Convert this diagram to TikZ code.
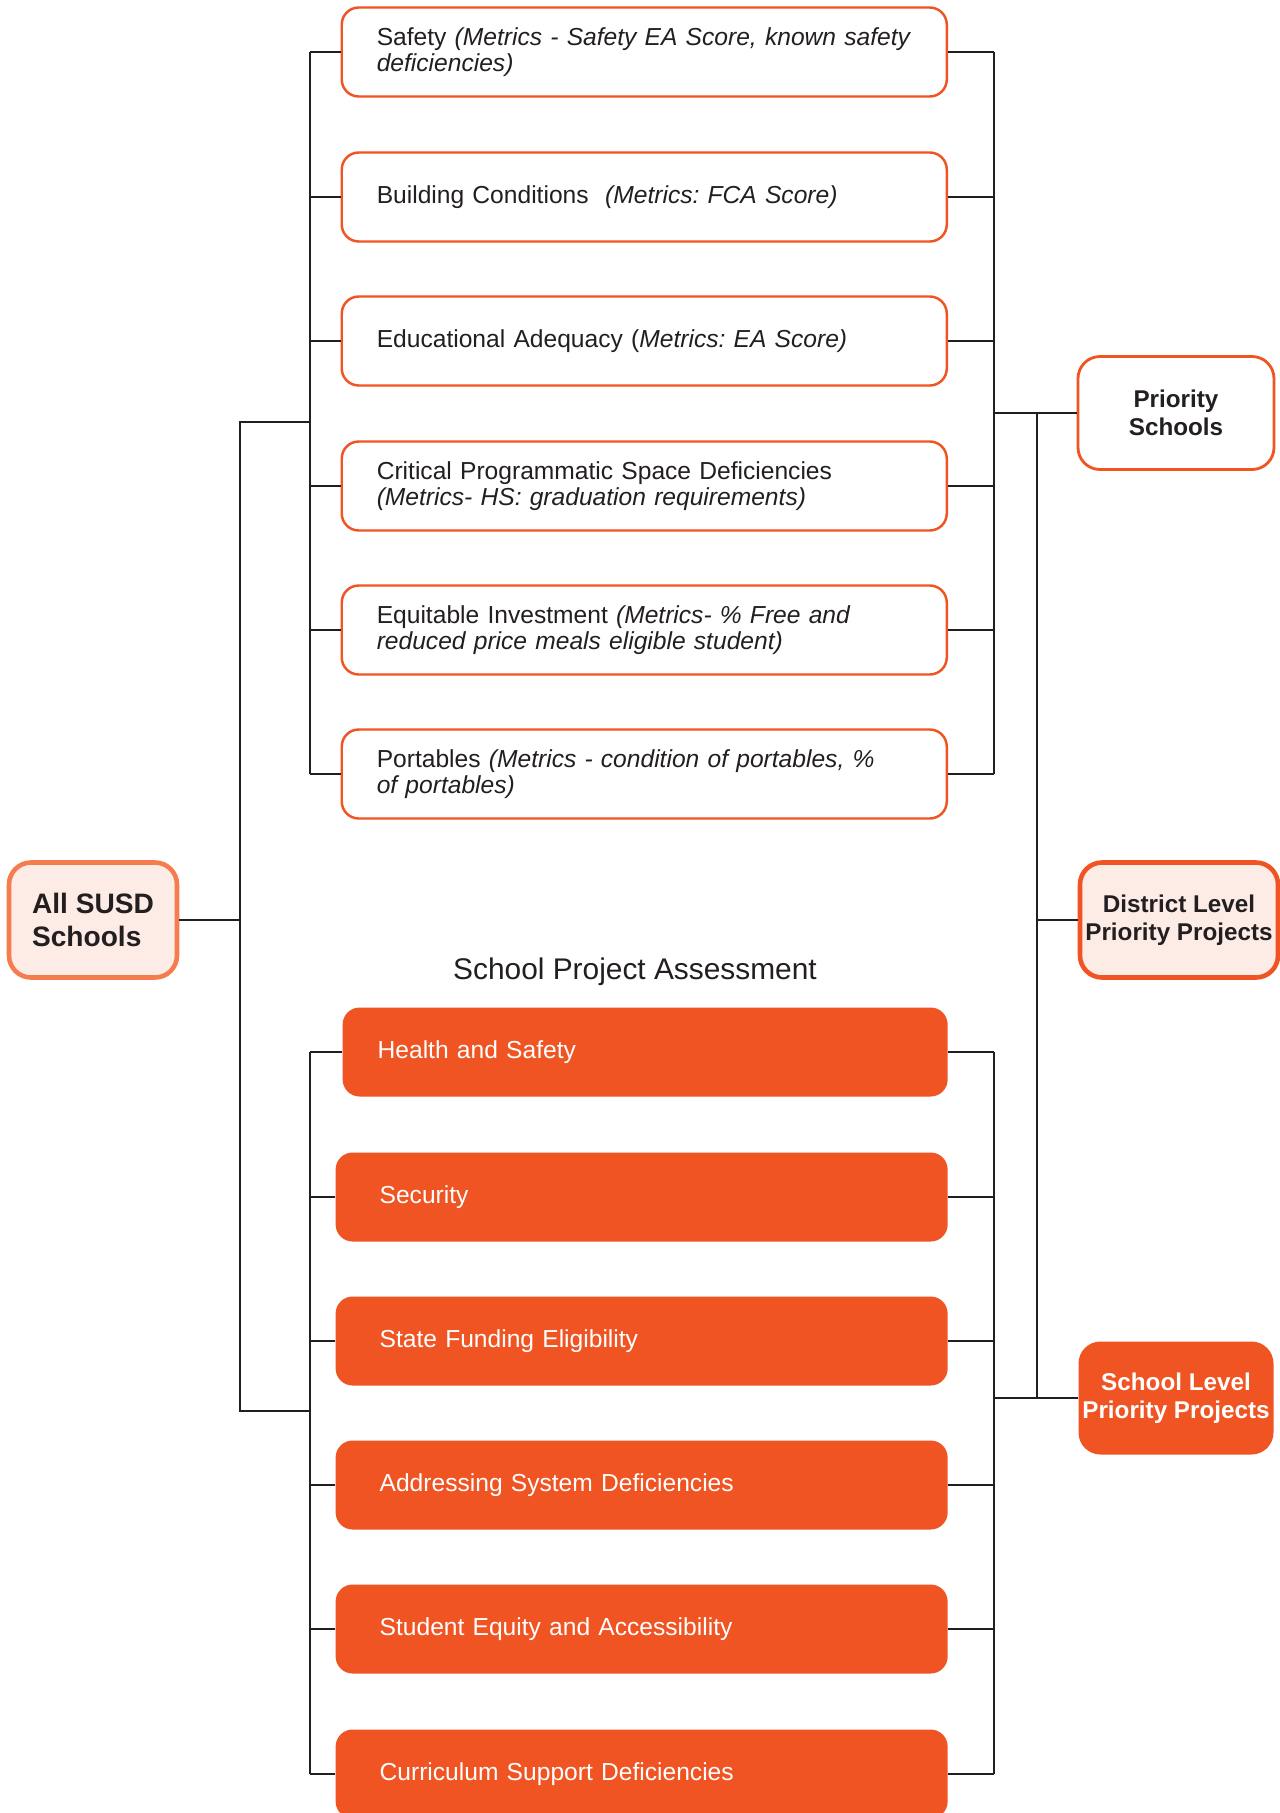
\documentclass[tikz,border=0pt]{standalone}
\usepackage{fontspec}
\setmainfont{Liberation Sans}
\usetikzlibrary{positioning}
\frenchspacing

\definecolor{ink}{HTML}{231F20}
\definecolor{orange}{HTML}{F05423}
\definecolor{softorange}{HTML}{F47C4E}
\definecolor{blush}{HTML}{FCECE5}

\tikzset{
  wire/.style={draw=ink, line width=1.6pt},
  topbox/.style={draw=orange, line width=1.4pt, fill=white, rounded corners=3.4mm,
    text width=107mm, inner xsep=7mm, inner ysep=0pt, minimum height=17.8mm,
    align=left, anchor=east, font=\fontsize{14}{14.5}\selectfont, text=ink},
  botbox/.style={fill=orange, draw=none, rounded corners=3.4mm,
    text width=107mm, inner xsep=7mm, inner ysep=0pt, minimum height=17.8mm,
    align=left, anchor=east, font=\fontsize{14}{14.5}\selectfont, text=white},
  botwide/.style={text width=104.8mm, inner xsep=8.8mm},
  endbox/.style={rounded corners=4.4mm, inner sep=0pt, align=center,
    font=\bfseries\fontsize{13.8}{15.8}\selectfont}
}

\begin{document}
\begin{tikzpicture}[x=0.2mm, y=-0.2mm]
  \useasboundingbox (0,0) rectangle (1280,1813);
  \clip (0,0) rectangle (1280,1813);
  \fill[white] (0,0) rectangle (1280,1813);

  % bus lines
  \coordinate (lbus) at (310,0);
  \coordinate (rbus) at (994,0);
  \coordinate (hub) at (240,920);
  \coordinate (rhub) at (1037,0);

  % ranking criteria
  \node[topbox] (safety) at (948,52) {Safety \textit{(Metrics - Safety EA Score, known safety}\\\textit{deficiencies)}};
  \node[topbox] (bldg) at (948,197) {Building Conditions~~\textit{(Metrics: FCA Score)}};
  \node[topbox] (ea) at (948,341) {Educational Adequacy (\textit{Metrics: EA Score)}};
  \node[topbox] (space) at (948,486) {Critical Programmatic Space Deficiencies\\\textit{(Metrics- HS: graduation requirements)}};
  \node[topbox] (invest) at (948,630) {Equitable Investment \textit{(Metrics- \% Free and}\\\textit{reduced price meals eligible student)}};
  \node[topbox] (portables) at (948,774) {Portables \textit{(Metrics - condition of portables, \%}\\\textit{of portables)}};

  \node[font=\fontsize{17}{20}\selectfont, text=ink] (spa) at (635,972) {School Project Assessment};

  % assessment criteria
  \node[botbox] (health) at (948,1052) {Health and Safety};
  \node[botbox, botwide] (security) at (948,1197) {Security};
  \node[botbox, botwide] (funding) at (948,1341) {State Funding Eligibility};
  \node[botbox, botwide] (systems) at (948,1485) {Addressing System Deficiencies};
  \node[botbox, botwide] (access) at (948,1629) {Student Equity and Accessibility};
  \node[botbox, botwide] (curric) at (948,1774) {Curriculum Support Deficiencies};

  % start and outcomes
  \node[endbox, draw=softorange, line width=2.6pt, fill=blush, minimum width=33.6mm, minimum height=23mm,
    font=\bfseries\fontsize{16}{18.4}\selectfont, align=left, text=ink] (all) at (93,920) {All SUSD\\Schools};
  \node[endbox, draw=orange, line width=1.6pt, fill=white, minimum width=39.2mm, minimum height=22.6mm, text=ink] (prio) at (1176,413) {Priority\\Schools};
  \node[endbox, draw=orange, line width=2.6pt, fill=blush, minimum width=39.6mm, minimum height=23mm, text=ink] (district) at (1179,920) {District Level\\Priority Projects};
  \node[endbox, fill=orange, minimum width=39mm, minimum height=22.6mm, text=white] (school) at (1176,1398) {School Level\\Priority Projects};

  \foreach \n in {safety,bldg,ea,space,invest,portables,health,security,funding,systems,access,curric}
    \draw[wire] (\n.west) -- (\n.west -| lbus) (\n.east) -- (\n.east -| rbus);
  \draw[wire] (safety.west -| lbus) -- (portables.west -| lbus);
  \draw[wire] (safety.east -| rbus) -- (portables.east -| rbus);
  \draw[wire] (health.west -| lbus) -- (curric.west -| lbus);
  \draw[wire] (health.east -| rbus) -- (curric.east -| rbus);

  \draw[wire] (all.east) -- (hub);
  \draw[wire] (lbus |- 0,422) -- (hub |- 0,422) -- (hub |- 0,1411) -- (lbus |- 0,1411);

  \draw[wire] (prio.west) -- (prio.west -| rbus);
  \draw[wire] (prio.west -| rhub) -- (school.west -| rhub);
  \draw[wire] (district.west) -- (district.west -| rhub);
  \draw[wire] (school.west) -- (school.west -| rbus);
\end{tikzpicture}
\end{document}
